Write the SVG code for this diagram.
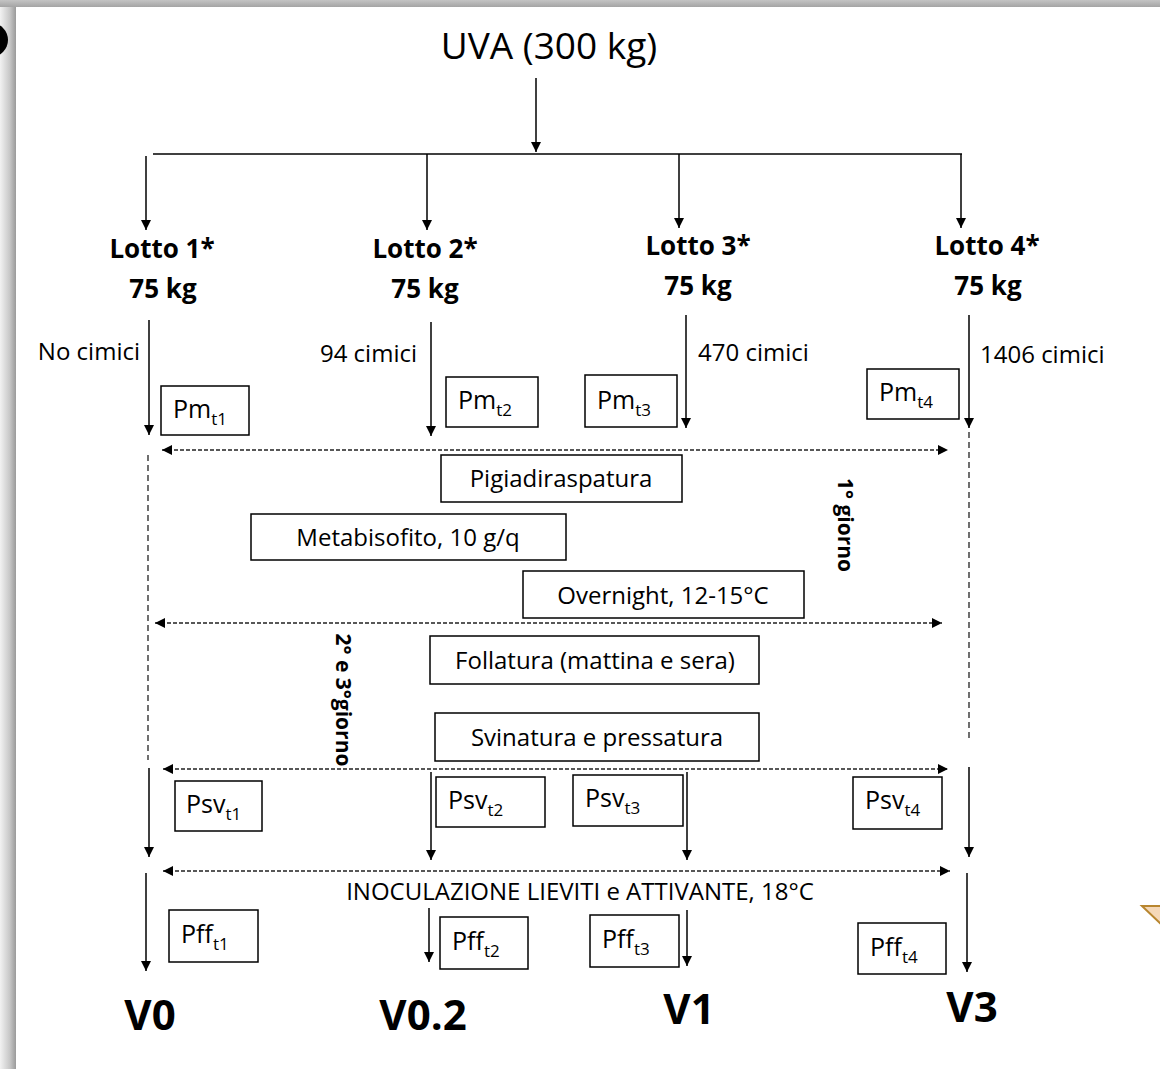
<svg xmlns="http://www.w3.org/2000/svg" width="1160" height="1069" viewBox="0 0 1160 1069">
<defs>
<linearGradient id="gl" x1="0" y1="0" x2="1" y2="0"><stop offset="0" stop-color="#f2f2f2"/><stop offset="0.6" stop-color="#c8c8c8"/><stop offset="1" stop-color="#9a9a9a"/></linearGradient>
<linearGradient id="gt" x1="0" y1="0" x2="0" y2="1"><stop offset="0" stop-color="#c4c4c4"/><stop offset="1" stop-color="#a4a4a4"/></linearGradient>
<marker id="ah" viewBox="0 0 10 10" refX="10" refY="5" markerWidth="10" markerHeight="10" markerUnits="userSpaceOnUse" orient="auto-start-reverse"><path d="M0,0 L10,5 L0,10 z" fill="#000"/></marker>
<marker id="ahs" viewBox="0 0 10 10" refX="10" refY="5" markerWidth="12" markerHeight="10" markerUnits="userSpaceOnUse" orient="auto-start-reverse"><path d="M0,0 L10,5 L0,10 z" fill="#000"/></marker>
<style>
text{font-family:"Open Sans","Noto Sans",sans-serif;fill:#000}
.t{font-size:24px}
.p{font-size:25px}
.b{font-size:26px;font-weight:bold}
.v{font-size:42px;font-weight:bold}
.r{font-size:21px;font-weight:bold}
.sub{font-size:17px}
.box{fill:#fff;stroke:#000;stroke-width:1.5}
.ar{stroke:#000;stroke-width:1.5;fill:none;marker-end:url(#ah)}
.ln{stroke:#000;stroke-width:1.5;fill:none}
.dh{stroke:#222;stroke-width:1.3;stroke-dasharray:4 2;fill:none;marker-start:url(#ahs);marker-end:url(#ahs)}
.dv{stroke:#222;stroke-width:1.3;stroke-dasharray:6 4;fill:none}
</style>
</defs>
<rect width="1160" height="1069" fill="#fff"/>
<rect x="0" y="0" width="16" height="1069" fill="url(#gl)"/>
<rect x="0" y="0" width="1160" height="7" fill="url(#gt)"/>
<circle cx="-9" cy="40" r="17" fill="#000"/>
<polygon points="1142,906 1161,906 1161,924" fill="#f5d8b8" stroke="#b8862f" stroke-width="2"/>

<g id="connectors">
<path class="ar" d="M536,78 V152"/>
<path class="ln" d="M153,154 H962"/>
<path class="ar" d="M146,156 V230"/>
<path class="ar" d="M427,154 V230"/>
<path class="ar" d="M679,154 V228"/>
<path class="ar" d="M961,154 V228"/>
<path class="ar" d="M149,320 V435"/>
<path class="ar" d="M431,322 V436"/>
<path class="ar" d="M686,315 V428"/>
<path class="ar" d="M969,315 V428"/>
<path class="dv" d="M148,455 V760"/>
<path class="dv" d="M969,432 V742"/>
<path class="dh" d="M162,450 H948"/>
<path class="dh" d="M155,623 H942"/>
<path class="dh" d="M163,769 H948"/>
<path class="dh" d="M163,871 H950"/>
<path class="ar" d="M149,768 V857"/>
<path class="ar" d="M431,772 V860"/>
<path class="ar" d="M687,772 V860"/>
<path class="ar" d="M969,767 V857"/>
<path class="ar" d="M146,873 V971"/>
<path class="ar" d="M429,908 V962"/>
<path class="ar" d="M687,910 V966"/>
<path class="ar" d="M967,873 V972"/>
</g>

<g id="uva"><text x="549" y="59" font-size="37" text-anchor="middle">UVA (300 kg)</text></g>

<g id="lotto1"><text class="b" x="162" y="258" text-anchor="middle">Lotto 1*</text><text class="b" x="163" y="298" text-anchor="middle">75 kg</text></g>
<g id="lotto2"><text class="b" x="425" y="258" text-anchor="middle">Lotto 2*</text><text class="b" x="425" y="298" text-anchor="middle">75 kg</text></g>
<g id="lotto3"><text class="b" x="698" y="255" text-anchor="middle">Lotto 3*</text><text class="b" x="698" y="295" text-anchor="middle">75 kg</text></g>
<g id="lotto4"><text class="b" x="987" y="255" text-anchor="middle">Lotto 4*</text><text class="b" x="988" y="295" text-anchor="middle">75 kg</text></g>

<g id="cimici">
<text class="t" x="140" y="360" text-anchor="end">No cimici</text>
<text class="t" x="417" y="362" text-anchor="end">94 cimici</text>
<text class="t" x="698" y="361">470 cimici</text>
<text class="t" x="980" y="363">1406 cimici</text>
</g>

<g id="pm1"><rect class="box" x="161" y="386" width="88" height="49"/><text class="p" x="173" y="418">Pm<tspan class="sub" dy="7">t1</tspan></text></g>
<g id="pm2"><rect class="box" x="446" y="377" width="92" height="50"/><text class="p" x="458" y="409">Pm<tspan class="sub" dy="7">t2</tspan></text></g>
<g id="pm3"><rect class="box" x="585" y="375" width="92" height="52"/><text class="p" x="597" y="409">Pm<tspan class="sub" dy="7">t3</tspan></text></g>
<g id="pm4"><rect class="box" x="867" y="369" width="92" height="50"/><text class="p" x="879" y="401">Pm<tspan class="sub" dy="7">t4</tspan></text></g>

<g id="pigiadiraspatura"><rect class="box" x="441" y="455" width="241" height="47"/><text class="t" x="561" y="487" text-anchor="middle">Pigiadiraspatura</text></g>
<g id="metabisofito"><rect class="box" x="251" y="514" width="315" height="46"/><text class="t" x="408" y="546" text-anchor="middle">Metabisofito, 10 g/q</text></g>
<g id="overnight"><rect class="box" x="523" y="571" width="281" height="47"/><text class="t" x="663" y="604" text-anchor="middle">Overnight, 12-15°C</text></g>
<g id="follatura"><rect class="box" x="430" y="636" width="329" height="48"/><text class="t" x="595" y="669" text-anchor="middle">Follatura (mattina e sera)</text></g>
<g id="svinatura"><rect class="box" x="435" y="713" width="324" height="48"/><text class="t" x="597" y="746" text-anchor="middle">Svinatura e pressatura</text></g>

<g id="giorno1"><text class="r" transform="translate(838,525) rotate(90)" text-anchor="middle">1° giorno</text></g>
<g id="giorno23"><text class="r" transform="translate(336,700) rotate(90)" text-anchor="middle">2° e 3°giorno</text></g>

<g id="psv1"><rect class="box" x="175" y="781" width="87" height="50"/><text class="p" x="186" y="813">Psv<tspan class="sub" dy="7">t1</tspan></text></g>
<g id="psv2"><rect class="box" x="436" y="777" width="109" height="50"/><text class="p" x="448" y="809">Psv<tspan class="sub" dy="7">t2</tspan></text></g>
<g id="psv3"><rect class="box" x="573" y="775" width="110" height="51"/><text class="p" x="585" y="807">Psv<tspan class="sub" dy="7">t3</tspan></text></g>
<g id="psv4"><rect class="box" x="853" y="777" width="89" height="52"/><text class="p" x="865" y="809">Psv<tspan class="sub" dy="7">t4</tspan></text></g>

<g id="inoculazione"><text class="t" x="580" y="900" text-anchor="middle">INOCULAZIONE LIEVITI e ATTIVANTE, 18°C</text></g>

<g id="pff1"><rect class="box" x="169" y="910" width="89" height="52"/><text class="p" x="181" y="943">Pff<tspan class="sub" dy="7">t1</tspan></text></g>
<g id="pff2"><rect class="box" x="440" y="917" width="88" height="52"/><text class="p" x="452" y="950">Pff<tspan class="sub" dy="7">t2</tspan></text></g>
<g id="pff3"><rect class="box" x="590" y="915" width="89" height="52"/><text class="p" x="602" y="948">Pff<tspan class="sub" dy="7">t3</tspan></text></g>
<g id="pff4"><rect class="box" x="858" y="923" width="88" height="51"/><text class="p" x="870" y="956">Pff<tspan class="sub" dy="7">t4</tspan></text></g>

<g id="v0"><text class="v" x="150" y="1030" text-anchor="middle">V0</text></g>
<g id="v02"><text class="v" x="423" y="1030" text-anchor="middle">V0.2</text></g>
<g id="v1"><text class="v" x="689" y="1024" text-anchor="middle">V1</text></g>
<g id="v3"><text class="v" x="972" y="1022" text-anchor="middle">V3</text></g>
</svg>
